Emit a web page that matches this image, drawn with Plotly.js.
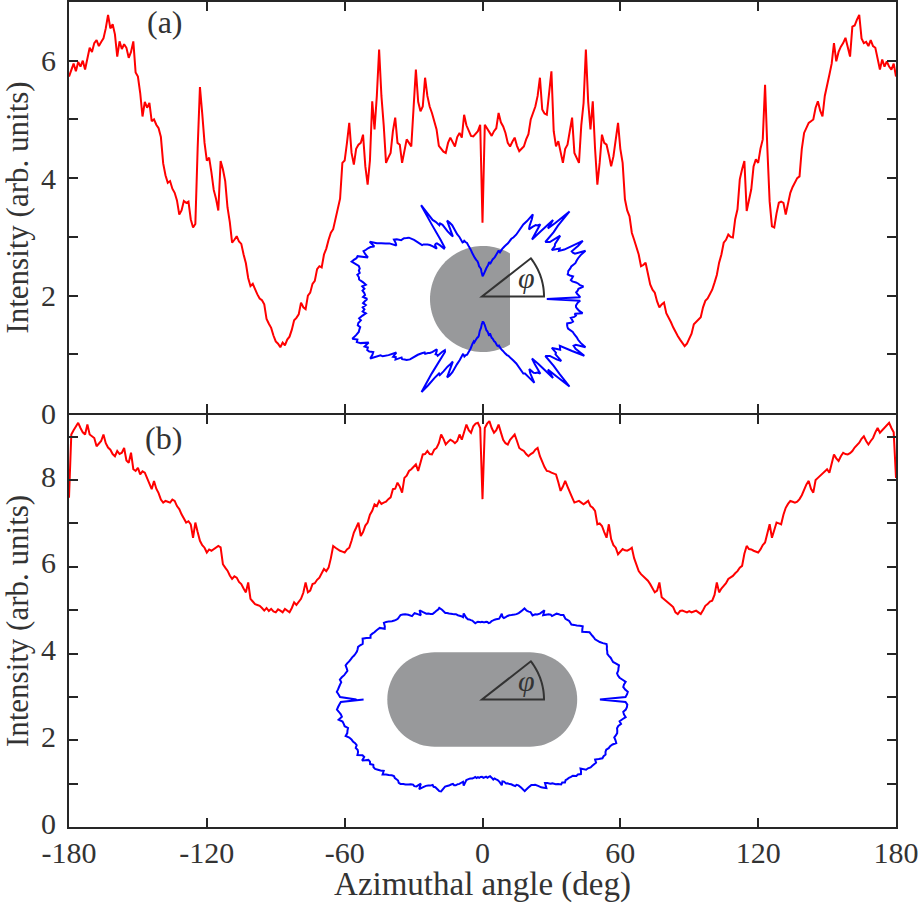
<!DOCTYPE html>
<html>
<head>
<meta charset="utf-8">
<script src="https://cdn.plot.ly/plotly-3.0.1.min.js"></script>
<style>
html,body{margin:0;padding:0;background:#ffffff;}
#chart{width:921px;height:903px;}
</style>
</head>
<body>
<div id="chart"></div>
<script>
// ---------------- data ----------------
const angles = [
-180,-179,-178,-177,-176,-175,-174,-173,-172,-171,-170,-169,-168,-167,-166,-165,-164,-163,-162,-161,
-160,-159,-158,-157,-156,-155,-154,-153,-152,-151,-150,-149,-148,-147,-146,-145,-144,-143,-142,-141,
-140,-139,-138,-137,-136,-135,-134,-133,-132,-131,-130,-129,-128,-127,-126,-125,-124,-123,-122,-121,
-120,-119,-118,-117,-116,-115,-114,-113,-112,-111,-110,-109,-108,-107,-106,-105,-104,-103,-102,-101,
-100,-99,-98,-97,-96,-95,-94,-93,-92,-91,-90,-89,-88,-87,-86,-85,-84,-83,-82,-81,
-80,-79,-78,-77,-76,-75,-74,-73,-72,-71,-70,-69,-68,-67,-66,-65,-64,-63,-62,-61,
-60,-59,-58,-57,-56,-55,-54,-53,-52,-51,-50,-49,-48,-47,-46,-45,-44,-43,-42,-41,
-40,-39,-38,-37,-36,-35,-34,-33,-32,-31,-30,-29,-28,-27,-26,-25,-24,-23,-22,-21,
-20,-19,-18,-17,-16,-15,-14,-13,-12,-11,-10,-9,-8,-7,-6,-5,-4,-3,-2,-1,
0,
1,2,3,4,5,6,7,8,9,10,11,12,13,14,15,16,17,18,19,20,
21,22,23,24,25,26,27,28,29,30,31,32,33,34,35,36,37,38,39,40,
41,42,43,44,45,46,47,48,49,50,51,52,53,54,55,56,57,58,59,60,
61,62,63,64,65,66,67,68,69,70,71,72,73,74,75,76,77,78,79,80,
81,82,83,84,85,86,87,88,89,90,91,92,93,94,95,96,97,98,99,100,
101,102,103,104,105,106,107,108,109,110,111,112,113,114,115,116,117,118,119,120,
121,122,123,124,125,126,127,128,129,130,131,132,133,134,135,136,137,138,139,140,
141,142,143,144,145,146,147,148,149,150,151,152,153,154,155,156,157,158,159,160,
161,162,163,164,165,166,167,168,169,170,171,172,173,174,175,176,177,178,179,180
];

// panel (a) intensity, one value per degree from -180 to 180
const intensityA = [
5.73,5.85,5.95,5.82,5.98,5.9,6.0,5.85,6.05,6.22,
6.15,6.3,6.35,6.25,6.32,6.38,6.55,6.78,6.55,6.62,
6.45,6.07,6.33,6.2,6.28,6.22,6.05,6.15,6.33,5.8,
5.73,5.45,5.05,5.3,5.2,5.28,4.97,5.0,4.91,4.85,
4.7,4.25,4.05,3.92,3.95,3.82,3.75,3.62,3.38,3.45,
3.61,3.58,3.6,3.3,3.16,3.22,4.5,5.55,5.1,4.6,
4.3,4.35,4.1,3.8,3.65,3.45,4.29,4.15,3.95,3.5,
3.25,2.9,2.95,3.01,2.92,2.88,2.7,2.55,2.3,2.16,
2.2,2.1,2.02,1.95,1.92,1.85,1.6,1.52,1.45,1.32,
1.22,1.18,1.12,1.2,1.15,1.25,1.3,1.42,1.58,1.62,
1.68,1.88,1.8,1.77,2.0,2.05,2.2,2.25,2.45,2.5,
2.48,2.7,2.8,2.95,3.07,3.13,3.3,3.45,3.65,4.26,
4.3,4.6,4.94,4.43,4.23,4.5,4.57,4.6,4.74,4.2,
3.89,4.3,5.31,4.83,5.4,6.19,5.4,4.9,4.26,4.35,
4.43,4.8,5.03,4.6,4.57,4.26,4.45,4.66,4.6,4.54,
5.2,5.85,5.3,5.14,5.22,5.71,5.4,5.22,5.11,4.95,
4.83,4.55,4.49,4.45,4.43,4.6,4.69,4.62,4.54,4.7,
4.77,4.69,5.08,4.9,4.8,4.72,4.71,4.75,4.8,4.91,
3.24,
4.91,4.85,4.77,4.72,4.8,4.85,5.11,4.95,4.88,4.77,
4.6,4.54,4.62,4.69,4.55,4.46,4.5,4.54,4.66,4.75,
5.0,5.1,5.22,5.4,5.71,5.17,5.1,5.08,5.5,5.82,
4.8,4.54,4.63,4.45,4.26,4.5,4.57,4.8,5.03,4.43,
4.35,4.26,4.9,5.28,6.19,5.3,4.83,5.31,4.5,3.89,
4.26,4.74,4.6,4.57,4.4,4.2,4.37,4.7,4.94,4.5,
4.26,3.64,3.45,3.35,3.07,2.95,2.84,2.7,2.5,2.52,
2.56,2.35,2.19,2.1,2.05,1.9,1.8,1.85,1.88,1.7,
1.63,1.55,1.46,1.38,1.31,1.25,1.2,1.14,1.18,1.26,
1.35,1.51,1.55,1.6,1.63,1.8,1.91,1.95,2.02,2.1,
2.22,2.35,2.56,2.7,2.9,2.95,3.04,3.0,2.99,3.3,
3.47,3.98,4.15,4.29,3.44,3.6,3.81,4.2,4.32,4.26,
4.5,4.66,5.59,4.5,3.6,3.18,3.16,3.4,3.58,3.6,
3.58,3.38,3.6,3.75,3.85,3.92,4.0,4.03,4.5,4.77,
4.85,4.94,4.97,5.0,5.2,5.31,5.15,5.05,5.4,5.56,
5.76,5.95,6.3,5.99,6.15,6.24,6.3,6.39,6.25,6.07,
6.58,6.6,6.7,6.78,6.38,6.3,6.32,6.25,6.35,6.25,
6.22,6.0,5.85,6.02,5.9,5.99,5.9,5.85,5.95,5.73
];

// panel (b) intensity, one value per degree from -180 to 180
const intensityB = [
7.59,9.05,9.15,9.24,9.32,9.2,9.1,9.05,9.28,9.05,
9.0,8.97,8.78,8.85,8.9,9.05,8.85,8.75,8.7,8.6,
8.55,8.67,8.6,8.63,8.74,8.45,8.4,8.63,8.25,8.21,
8.28,8.13,8.2,8.17,8.05,7.94,7.79,7.98,7.8,7.7,
7.55,7.48,7.52,7.5,7.48,7.55,7.52,7.4,7.33,7.21,
7.1,7.02,7.05,6.98,6.67,7.02,6.8,6.6,6.5,6.44,
6.33,6.4,6.37,6.4,6.44,6.48,6.45,6.06,5.98,5.91,
5.8,5.72,5.78,5.75,5.65,5.6,5.5,5.41,5.64,5.26,
5.2,5.14,5.12,5.1,5.05,4.99,5.05,4.98,5.03,4.97,
4.95,5.02,4.99,4.95,5.03,4.98,4.95,5.05,5.18,5.12,
5.2,5.26,5.4,5.64,5.41,5.45,5.6,5.62,5.7,5.75,
5.85,5.95,5.9,5.98,6.2,6.48,6.44,6.4,6.37,6.35,
6.33,6.4,6.44,6.6,6.79,6.9,7.02,6.71,6.8,6.95,
7.02,7.2,7.29,7.44,7.4,7.52,7.45,7.48,7.5,7.56,
7.6,7.79,7.8,7.94,7.85,7.71,8.05,8.1,8.21,8.25,
8.3,8.36,8.21,8.4,8.59,8.6,8.67,8.6,8.59,8.7,
8.74,8.85,9.05,8.95,8.82,8.88,8.93,8.9,8.85,8.9,
9.05,8.93,9.09,9.28,9.15,9.09,9.24,9.3,9.32,9.2,
7.56,
9.2,9.3,9.36,9.2,9.09,9.15,9.28,9.1,8.93,8.85,
8.82,8.93,8.98,9.05,8.9,8.74,8.7,8.67,8.6,8.55,
8.6,8.63,8.7,8.74,8.55,8.4,8.3,8.21,8.2,8.17,
8.15,8.13,7.95,7.75,7.85,7.98,7.85,7.71,7.6,7.48,
7.5,7.52,7.48,7.44,7.48,7.52,7.4,7.36,7.29,6.98,
7.0,6.94,6.8,6.67,6.98,6.64,6.5,6.44,6.29,6.35,
6.41,6.38,6.37,6.4,6.44,6.2,6.02,5.9,5.83,5.78,
5.72,5.68,5.6,5.5,5.41,5.45,5.64,5.3,5.26,5.22,
5.18,5.12,5.07,4.95,4.91,4.98,4.99,4.96,4.95,4.98,
4.95,4.97,4.99,4.95,4.91,5.0,5.1,5.14,5.2,5.22,
5.35,5.64,5.41,5.5,5.56,5.62,5.72,5.75,5.79,5.85,
5.9,5.98,6.02,6.3,6.48,6.41,6.4,6.37,6.35,6.33,
6.4,6.5,6.56,6.75,6.98,6.67,6.85,7.02,7.0,6.98,
7.2,7.36,7.45,7.52,7.5,7.48,7.5,7.56,7.65,7.79,
7.9,7.98,7.8,7.71,8.0,8.05,8.1,8.13,8.2,8.25,
8.17,8.4,8.59,8.5,8.44,8.55,8.63,8.6,8.59,8.62,
8.67,8.75,8.8,8.86,8.95,9.01,8.9,8.82,8.9,8.97,
9.1,9.2,9.09,9.15,9.2,9.25,9.32,9.2,9.1,8.05
];

const xTickVals = [-180, -120, -60, 0, 60, 120, 180];
const xTickText = ['-180', '-120', '-60', '0', '60', '120', '180'];
const yTickValsA = [0, 1, 2, 3, 4, 5, 6, 7];
const yTickTextA = ['0', '', '2', '', '4', '', '6', ''];
const yTickValsB = [0, 1, 2, 3, 4, 5, 6, 7, 8, 9];
const yTickTextB = ['0', '', '2', '', '4', '', '6', '', '8', ''];
const panelLabels = ['(a)', '(b)'];
const xTitle = 'Azimuthal angle (deg)';
const yTitle = 'Intensity (arb. units)';
const angleSymbol = 'φ';

// ---------------- geometry helpers (pixels -> paper) ----------------
const W = 921, H = 903, ML = 69, MR = 25;
const PW = W - ML - MR;
const fx = px => (px - ML) / PW;
const fy = py => (H - py) / H;

const FONT = "'Liberation Serif', 'Times New Roman', Times, serif";
const TXT = '#333333';
const AX = '#262626';
const RED = '#ff0000';
const BLUE = '#0000ff';
const GRAY = 'rgb(152,153,155)';

function pathFrom(pts) {
  return 'M' + pts.map(p => fx(p[0]).toFixed(6) + ',' + fy(p[1]).toFixed(6)).join('L') + 'Z';
}
// circle truncated by a vertical chord on its right side
function dShapePath(cx, cy, r, cutX) {
  const a0 = Math.acos((cutX - cx) / r);
  const pts = [];
  const n = 80;
  for (let i = 0; i <= n; i++) {
    const a = a0 + (2 * Math.PI - 2 * a0) * i / n;
    pts.push([cx + r * Math.cos(a), cy - r * Math.sin(a)]);
  }
  return pathFrom(pts);
}
// stadium (rounded rectangle with semicircular ends)
function stadiumPath(x0, x1, cy, r) {
  const pts = [];
  const n = 40;
  for (let i = 0; i <= n; i++) { const a = -Math.PI / 2 + Math.PI * i / n; pts.push([x1 + r * Math.cos(a), cy - r * Math.sin(a)]); }
  for (let i = 0; i <= n; i++) { const a = Math.PI / 2 + Math.PI * i / n; pts.push([x0 + r * Math.cos(a), cy - r * Math.sin(a)]); }
  return pathFrom(pts);
}
// angle marker (sector outline)
function sectorPath(vx, vy, r, deg) {
  const pts = [[vx, vy]];
  const n = 24;
  for (let i = 0; i <= n; i++) { const a = deg * Math.PI / 180 * i / n; pts.push([vx + r * Math.cos(a), vy - r * Math.sin(a)]); }
  return pathFrom(pts);
}
function polarDomain(cx, cy, R) {
  return { x: [fx(cx - R), fx(cx + R)], y: [fy(cy + R), fy(cy - R)] };
}

// inset geometry (pixels)
const insetA = { cx: 482, cy: 299, scale: 20, rmax: 7 };
const insetB = { cx: 482, cy: 699.5, scale: 15.6, rmax: 9.5 };
const vertexA = [482, 296.5];
const vertexB = [482, 699.5];

// ---------------- traces ----------------
const traces = [
  { type: 'scatter', mode: 'lines', x: angles, y: intensityA, xaxis: 'x2', yaxis: 'y2',
    line: { color: RED, width: 2 }, hoverinfo: 'skip', showlegend: false },
  { type: 'scatter', mode: 'lines', x: angles, y: intensityB, xaxis: 'x', yaxis: 'y',
    line: { color: RED, width: 2 }, hoverinfo: 'skip', showlegend: false },
  { type: 'scatterpolar', mode: 'lines', theta: angles, r: intensityA, subplot: 'polar',
    line: { color: BLUE, width: 2 }, hoverinfo: 'skip', showlegend: false },
  { type: 'scatterpolar', mode: 'lines', theta: angles, r: intensityB, subplot: 'polar2',
    line: { color: BLUE, width: 2 }, hoverinfo: 'skip', showlegend: false }
];

const axisCommon = {
  showline: true, linecolor: AX, linewidth: 2, mirror: 'ticks',
  ticks: 'inside', ticklen: 9, tickwidth: 2, tickcolor: AX,
  showgrid: false, zeroline: false, tickmode: 'array',
  tickfont: { family: FONT, size: 30, color: TXT }
};

const xTitleFont = { family: FONT, size: 33, color: TXT };
const yTitleFont = { family: FONT, size: 31, color: TXT };

const layout = {
  width: W, height: H,
  margin: { l: ML, r: MR, t: 0, b: 0 },
  paper_bgcolor: '#ffffff',
  plot_bgcolor: 'rgba(0,0,0,0)',
  showlegend: false,
  xaxis: Object.assign({}, axisCommon, {
    domain: [0, 1], anchor: 'y', range: [-180, 180],
    tickvals: xTickVals, ticktext: xTickText, ticklabelstandoff: -2,
    title: { text: xTitle, font: xTitleFont, standoff: 7 }
  }),
  xaxis2: Object.assign({}, axisCommon, {
    domain: [0, 1], anchor: 'y2', range: [-180, 180], matches: 'x',
    tickvals: xTickVals, ticktext: xTickText, showticklabels: false
  }),
  yaxis: Object.assign({}, axisCommon, {
    domain: [fy(827), fy(415)], anchor: 'x', range: [0, 9.5],
    tickvals: yTickValsB, ticktext: yTickTextB, ticklabelstandoff: 5, ticklabelshift: -4,
    title: { text: yTitle, font: yTitleFont, standoff: 8 }
  }),
  yaxis2: Object.assign({}, axisCommon, {
    domain: [fy(413), fy(2)], anchor: 'x2', range: [0, 7],
    tickvals: yTickValsA, ticktext: yTickTextA, ticklabelstandoff: 5,
    title: { text: yTitle, font: yTitleFont, standoff: 8 }
  }),
  polar: {
    domain: polarDomain(insetA.cx, insetA.cy, insetA.scale * insetA.rmax),
    bgcolor: 'rgba(0,0,0,0)',
    radialaxis: { visible: false, range: [0, insetA.rmax] },
    angularaxis: { visible: false, direction: 'counterclockwise', rotation: 0 }
  },
  polar2: {
    domain: polarDomain(insetB.cx, insetB.cy, insetB.scale * insetB.rmax),
    bgcolor: 'rgba(0,0,0,0)',
    radialaxis: { visible: false, range: [0, insetB.rmax] },
    angularaxis: { visible: false, direction: 'counterclockwise', rotation: 0 }
  },
  shapes: [
    { type: 'path', xref: 'paper', yref: 'paper', layer: 'below',
      path: dShapePath(483, 299, 53, 510), fillcolor: GRAY, line: { width: 0 } },
    { type: 'path', xref: 'paper', yref: 'paper', layer: 'below',
      path: stadiumPath(434.5, 530, 699.5, 47.2), fillcolor: GRAY, line: { width: 0 } },
    { type: 'path', xref: 'paper', yref: 'paper', layer: 'below',
      path: sectorPath(vertexA[0], vertexA[1], 62, 38), fillcolor: 'rgba(0,0,0,0)', line: { color: TXT, width: 2 } },
    { type: 'path', xref: 'paper', yref: 'paper', layer: 'below',
      path: sectorPath(vertexB[0], vertexB[1], 62, 38), fillcolor: 'rgba(0,0,0,0)', line: { color: TXT, width: 2 } }
  ],
  annotations: [
    { text: panelLabels[0], xref: 'paper', yref: 'paper', x: fx(165), y: fy(22), xanchor: 'center', yanchor: 'middle',
      showarrow: false, font: { family: FONT, size: 32, color: TXT } },
    { text: panelLabels[1], xref: 'paper', yref: 'paper', x: fx(163), y: fy(438), xanchor: 'center', yanchor: 'middle',
      showarrow: false, font: { family: FONT, size: 32, color: TXT } },
    { text: angleSymbol, xref: 'paper', yref: 'paper', x: fx(526), y: fy(vertexA[1] - 19), xanchor: 'center', yanchor: 'middle',
      showarrow: false, font: { family: FONT, size: 30, color: TXT, style: 'italic' } },
    { text: angleSymbol, xref: 'paper', yref: 'paper', x: fx(526), y: fy(vertexB[1] - 19), xanchor: 'center', yanchor: 'middle',
      showarrow: false, font: { family: FONT, size: 30, color: TXT, style: 'italic' } }
  ]
};

Plotly.newPlot('chart', traces, layout, { staticPlot: true, displayModeBar: false });
</script>
</body>
</html>
